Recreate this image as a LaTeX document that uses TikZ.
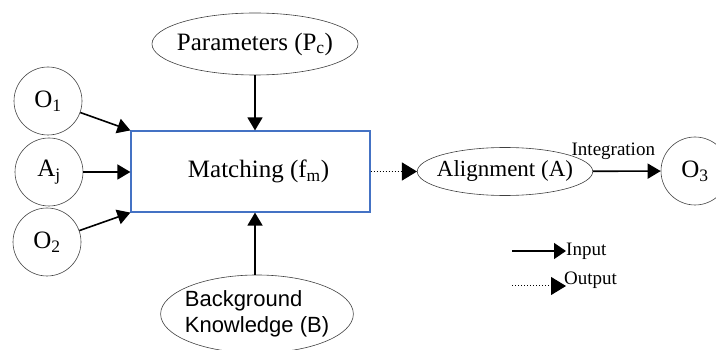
\documentclass[tikz,border=0pt]{standalone}
\usepackage{fontspec}
\setmainfont{Liberation Serif}
\newfontfamily\bgfont{Liberation Sans}
\usepackage{tikz}
\usetikzlibrary{positioning,arrows.meta,shapes.geometric}
\usepackage{xcolor}
\definecolor{boxblue}{RGB}{68,114,196}

\begin{document}
\begin{tikzpicture}[x=1pt,y=-1pt,
  every node/.style={font=\fontsize{25}{28}\selectfont},
  ell/.style={draw=black!75, ellipse, line width=0.6pt, inner xsep=-6pt, inner ysep=0pt},
  onto/.style={draw=black!75, circle, line width=0.6pt, minimum size=68pt, inner sep=0pt},
  inarrow/.style={-{Triangle[length=13pt,width=15pt]}, line width=1.6pt},
  outarrow/.style={-{Triangle[length=15pt,width=18pt]}, dotted, line width=1pt},
  lbl/.style={font=\fontsize{19}{21}\selectfont}]
\useasboundingbox (0,0) rectangle (716,350);

% inputs
\node[onto] (o1) at (48,101) {O\textsubscript{1}};
\node[onto] (aj) at (49,172) {A\textsubscript{j}};
\node[onto] (o2) at (47,242) {O\textsubscript{2}};

% matching
\node[draw=boxblue, line width=1.2pt, minimum width=239pt, minimum height=81pt] (match) at (250.5,171.5) {\hspace*{16pt}Matching (f\textsubscript{m})};
\node[ell, minimum width=206pt, minimum height=62pt] (par) at (255,44) {Parameters (P\textsubscript{c})};
\node[ell, minimum width=192pt, minimum height=78pt, inner xsep=-4pt, align=left,
  font=\bgfont\fontsize{22}{26}\selectfont] (bg) at (257,314) {Background\\Knowledge (B)};

\draw[inarrow] (o1) -- (match.north west);
\draw[inarrow] (aj) -- (aj -| match.west);
\draw[inarrow] (o2) -- (match.south west);
\draw[inarrow] (par) -- (par |- match.north);
\draw[inarrow] (bg.north -| par) -- (par |- match.south);

% alignment
\node[ell, minimum width=174pt, minimum height=48pt, font=\fontsize{23}{26}\selectfont] (align) at (505,171.5) {Alignment (A)};
\node[onto] (o3) at (695,171) {O\textsubscript{3}};
\draw[outarrow] (match.east) -- (align.west);
\draw[inarrow] (align) -- (o3) node[lbl, pos=0.3, above=7pt] {Integration};

% legend
\coordinate (ina) at (512,251);
\coordinate (inb) at (566,251);
\coordinate (outa) at (512,286);
\coordinate (outb) at (566,286);
\node[lbl, right=0pt of inb, inner sep=0pt] (inlbl) {Input};
\node[lbl, right=-2pt of outb, inner sep=0pt, yshift=6pt] (outlbl) {Output};
\draw[-{Triangle[length=12pt,width=16pt]}, line width=1.5pt] (ina) -- (inb);
\draw[outarrow] (outa) -- (outb);
\end{tikzpicture}
\end{document}
